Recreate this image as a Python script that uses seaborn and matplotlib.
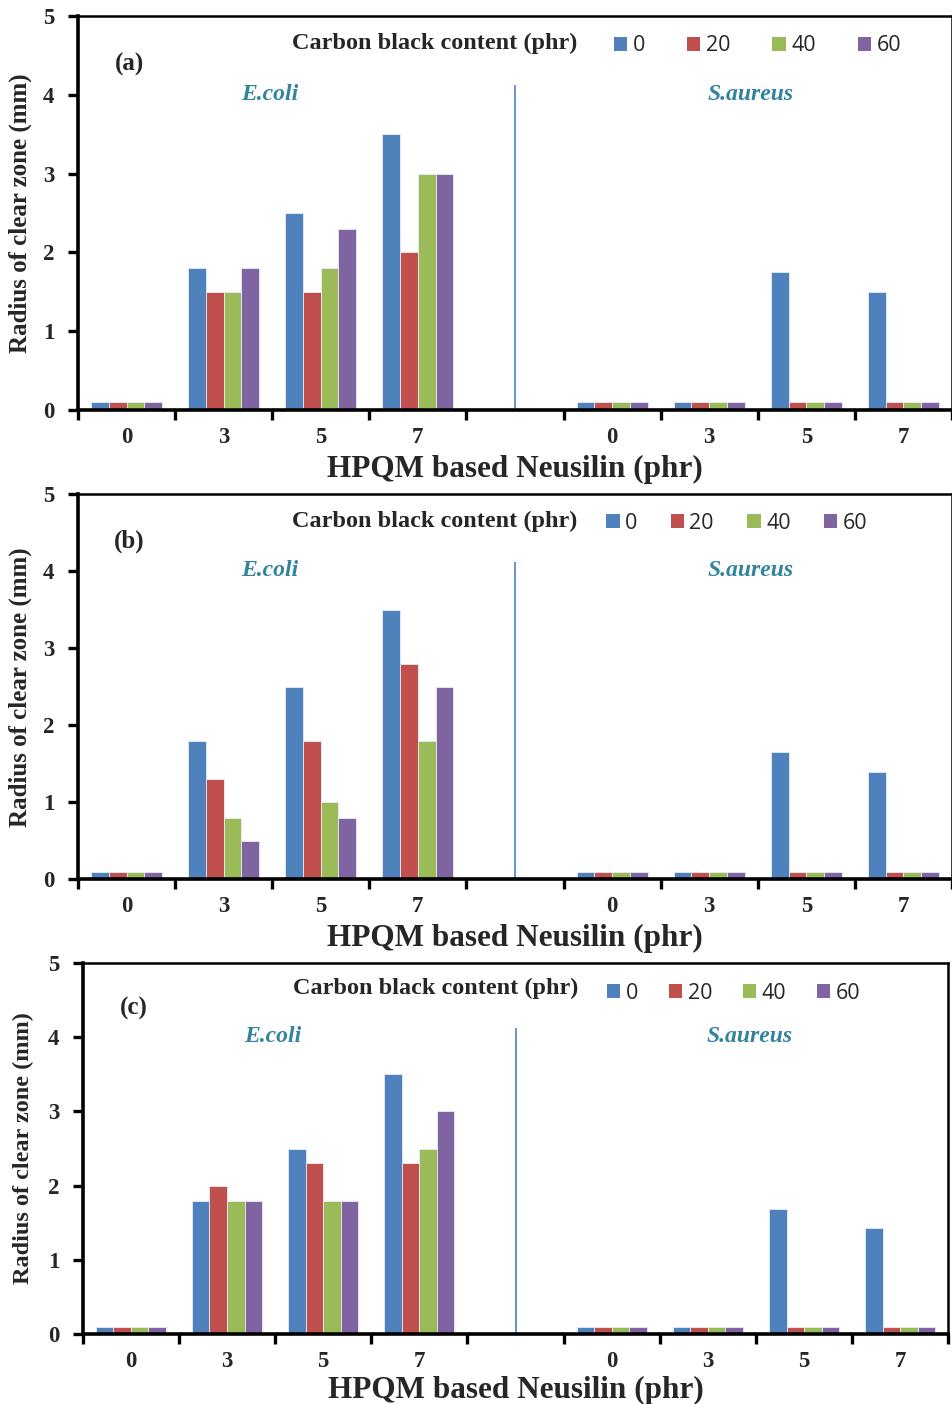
import numpy as np
import pandas as pd
import matplotlib
matplotlib.use("Agg")
import matplotlib.pyplot as plt
from matplotlib.patches import Patch
import seaborn as sns

# Neusilin loading (phr) on the x axis, carbon black loading (phr) as hue
neusilin = ["0", "3", "5", "7"]
carbon_black = ["0", "20", "40", "60"]
organisms = ["E.coli", "S.aureus"]
panel_tags = ["(a)", "(b)", "(c)"]

# rows: carbon black 0, 20, 40, 60 ; columns: Neusilin 0, 3, 5, 7
ecoli_a = [[0.1, 1.8, 2.5, 3.5],
           [0.1, 1.5, 1.5, 2.0],
           [0.1, 1.5, 1.8, 3.0],
           [0.1, 1.8, 2.3, 3.0]]
saureus_a = [[0.1, 0.1, 1.75, 1.5],
             [0.1, 0.1, 0.1, 0.1],
             [0.1, 0.1, 0.1, 0.1],
             [0.1, 0.1, 0.1, 0.1]]

ecoli_b = [[0.1, 1.8, 2.5, 3.5],
           [0.1, 1.3, 1.8, 2.8],
           [0.1, 0.8, 1.0, 1.8],
           [0.1, 0.5, 0.8, 2.5]]
saureus_b = [[0.1, 0.1, 1.65, 1.4],
             [0.1, 0.1, 0.1, 0.1],
             [0.1, 0.1, 0.1, 0.1],
             [0.1, 0.1, 0.1, 0.1]]

ecoli_c = [[0.1, 1.8, 2.5, 3.5],
           [0.1, 2.0, 2.3, 2.3],
           [0.1, 1.8, 1.8, 2.5],
           [0.1, 1.8, 1.8, 3.0]]
saureus_c = [[0.1, 0.1, 1.68, 1.43],
             [0.1, 0.1, 0.1, 0.1],
             [0.1, 0.1, 0.1, 0.1],
             [0.1, 0.1, 0.1, 0.1]]

panels = [(ecoli_a, saureus_a), (ecoli_b, saureus_b), (ecoli_c, saureus_c)]

colors = ["#4F81BD", "#C0504D", "#9BBB59", "#8064A2"]
label_color = "#31849B"
SERIF = "Liberation Serif"
SANS = "Open Sans"

# axes rectangles in figure fractions and a few per-panel layout tweaks
rects = [[0.0818, 0.708, 0.9171, 0.2806],
         [0.0818, 0.3736, 0.9171, 0.2746],
         [0.0868, 0.0496, 0.9083, 0.2647]]
legend_x = [5.02, 4.94, 4.95]
legend_y = [4.62, 4.62, 4.59]
col_space = [1.95, 1.55, 1.43]
ylabel_size = [18, 18, 17.5]
ylabel_pad = [8, 8, 10]
xlabel_pad = [5, 5, 3]


def long_table(ecoli, saureus):
    rows = []
    for org, vals in zip(organisms, [ecoli, saureus]):
        for i, cb in enumerate(carbon_black):
            for j, n in enumerate(neusilin):
                rows.append({"slot": f"{org}|{n}", "cb": cb, "radius": vals[i][j]})
    return pd.DataFrame(rows)


order = [f"E.coli|{n}" for n in neusilin] + ["gap"] + [f"S.aureus|{n}" for n in neusilin]
tick_text = neusilin + [""] + neusilin

sns.set_style("white")
plt.rcParams["font.family"] = [SERIF, "DejaVu Serif"]

fig = plt.figure(figsize=(9.53, 14.04), dpi=100)

for k, (ecoli, saureus) in enumerate(panels):
    ax = fig.add_axes(rects[k])
    df = long_table(ecoli, saureus)
    sns.barplot(data=df, x="slot", y="radius", hue="cb", order=order,
                hue_order=carbon_black, palette=colors, width=0.73,
                errorbar=None, legend=False, ax=ax,
                edgecolor="#e6edf5", linewidth=0.6, saturation=1)

    ax.set_xlim(-0.5, 8.5)
    ax.set_ylim(0, 5)
    ax.set_yticks(range(6))
    ax.set_xticks(range(len(order)))
    ax.set_xticklabels(tick_text)
    ax.set_xticks(np.arange(-0.5, len(order), 1), minor=True)
    ax.tick_params(axis="x", which="major", length=0, pad=12, labelsize=16.5)
    ax.tick_params(axis="x", which="minor", length=7, width=2.4,
                   direction="out", color="black", bottom=True)
    ax.tick_params(axis="y", length=7, width=2.4, direction="out",
                   color="black", left=True, pad=10, labelsize=16.5)
    for lab in ax.get_xticklabels() + ax.get_yticklabels():
        lab.set_fontweight("bold")
        lab.set_fontfamily(SERIF)

    for side in ["left", "bottom"]:
        ax.spines[side].set_linewidth(2.6)
        ax.spines[side].set_color("black")
    for side in ["top", "right"]:
        ax.spines[side].set_linewidth(1.8)
        ax.spines[side].set_color("black")

    ax.set_xlabel("HPQM based Neusilin (phr)", fontsize=22.5, fontweight="bold",
                  fontfamily=SERIF, labelpad=xlabel_pad[k])
    ax.set_ylabel("Radius of clear zone (mm)", fontsize=ylabel_size[k],
                  fontweight="bold", fontfamily=SERIF, labelpad=ylabel_pad[k])

    # separator between the two organisms
    ax.vlines(order.index("gap"), 0, 4.12, color="#4F81BD", linewidth=1.2)

    ax.text(0.03, 4.38, panel_tags[k], fontsize=18, fontweight="bold",
            fontfamily=SERIF, ha="center", va="center")
    ax.text(1.48, 4.01, organisms[0], fontsize=17, fontweight="bold",
            fontstyle="italic", color=label_color, fontfamily=SERIF,
            ha="center", va="center")
    ax.text(6.43, 4.01, organisms[1], fontsize=17, fontweight="bold",
            fontstyle="italic", color=label_color, fontfamily=SERIF,
            ha="center", va="center")
    ax.text(3.17, 4.65, "Carbon black content (phr)", fontsize=17.5,
            fontweight="bold", fontfamily=SERIF, ha="center", va="center")

    handles = [Patch(facecolor=c, edgecolor="none") for c in colors]
    ax.legend(handles, carbon_black, ncol=4, loc="center left",
              bbox_to_anchor=(legend_x[k], legend_y[k]),
              bbox_transform=ax.transData, frameon=False,
              handlelength=0.62, handleheight=0.6, handletextpad=0.25,
              columnspacing=col_space[k], borderpad=0, borderaxespad=0,
              prop={"family": SANS, "size": 15.5})

fig.savefig("out.png", dpi=100)
